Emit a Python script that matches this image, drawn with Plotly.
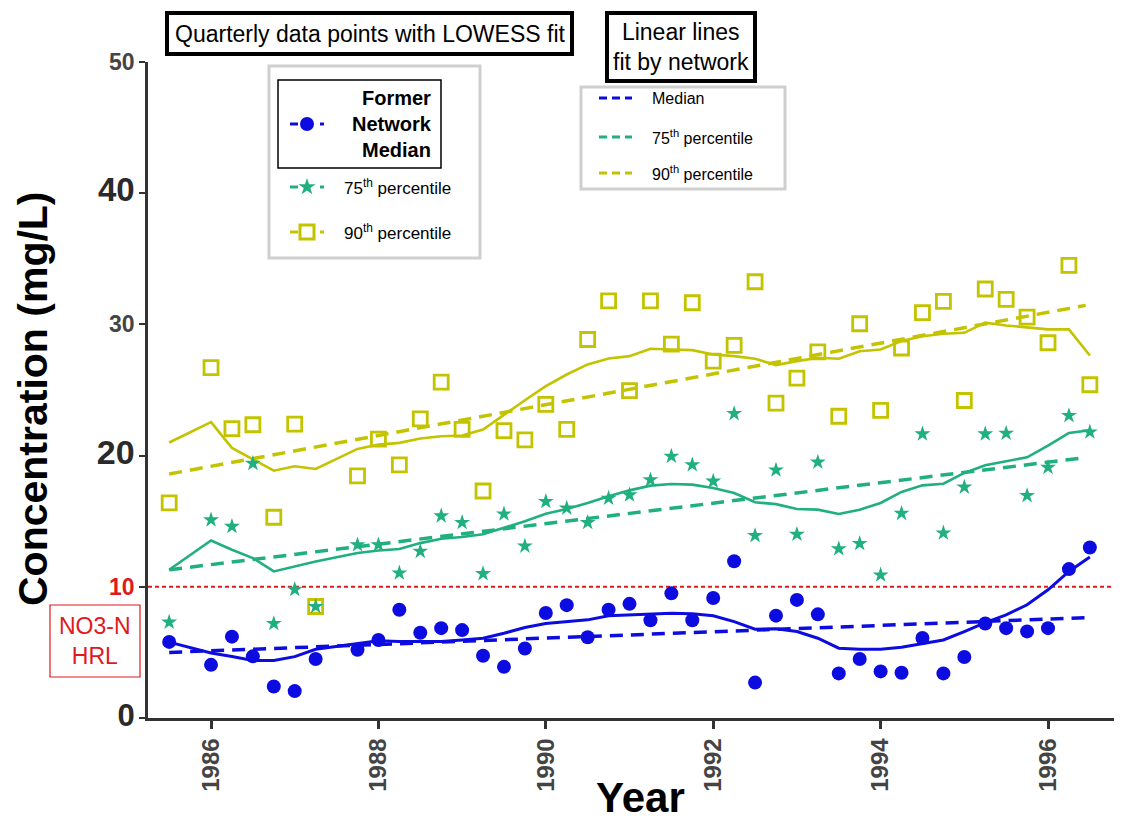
import plotly.graph_objects as go

# ---------------- data ----------------
years = [1985.5, 1986.0, 1986.25, 1986.5, 1986.75, 1987.0, 1987.25, 1987.75, 1988.0, 1988.25,
         1988.5, 1988.75, 1989.0, 1989.25, 1989.5, 1989.75, 1990.0, 1990.25, 1990.5, 1990.75,
         1991.0, 1991.25, 1991.5, 1991.75, 1992.0, 1992.25, 1992.5, 1992.75, 1993.0, 1993.25,
         1993.5, 1993.75, 1994.0, 1994.25, 1994.5, 1994.75, 1995.0, 1995.25, 1995.5, 1995.75,
         1996.0, 1996.25, 1996.5]

median_pts = [5.8, 4.05, 6.2, 4.7, 2.4, 2.05, 4.5, 5.2, 5.95, 8.25,
              6.5, 6.85, 6.7, 4.75, 3.9, 5.3, 8.0, 8.6, 6.15, 8.25,
              8.7, 7.45, 9.5, 7.45, 9.15, 11.95, 2.7, 7.8, 9.0, 7.9,
              3.4, 4.5, 3.55, 3.45, 6.1, 3.4, 4.65, 7.2, 6.85, 6.6,
              6.85, 11.35, 13.0]

p75_pts = [7.3, 15.1, 14.6, 19.4, 7.2, 9.8, 8.5, 13.2, 13.2, 11.05,
           12.7, 15.4, 14.9, 11.0, 15.55, 13.1, 16.5, 16.0, 14.9, 16.75,
           17.0, 18.15, 19.95, 19.3, 18.05, 23.2, 13.9, 18.9, 14.0, 19.5,
           12.9, 13.3, 10.9, 15.6, 21.65, 14.1, 17.6, 21.65, 21.7, 16.95,
           19.1, 23.05, 21.8]

p90_pts = [16.4, 26.7, 22.05, 22.35, 15.3, 22.4, 8.5, 18.45, 21.25, 19.3,
           22.8, 25.6, 22.0, 17.3, 21.9, 21.2, 23.9, 22.0, 28.85, 31.8,
           24.95, 31.8, 28.5, 31.65, 27.2, 28.4, 33.25, 24.0, 25.9, 27.9,
           23.0, 30.05, 23.45, 28.2, 30.9, 31.75, 24.2, 32.7, 31.9, 30.55,
           28.6, 34.5, 25.4]

lowess_median = [5.78, 4.95, 4.68, 4.38, 4.38, 4.68, 5.24, 5.7, 5.88, 5.83,
                 5.83, 5.83, 5.95, 6.08, 6.46, 6.9, 7.2, 7.35, 7.48, 7.79,
                 7.86, 7.94, 7.99, 7.94, 7.79, 7.35, 6.77, 6.8, 6.59, 6.08,
                 5.32, 5.24, 5.24, 5.4, 5.65, 5.95, 6.59, 7.27, 7.86, 8.63,
                 9.77, 11.17, 12.27]

lowess_p75 = [11.3, 13.53, 12.82, 12.19, 11.17, 11.55, 11.93, 12.57, 12.77, 12.88,
              13.33, 13.66, 13.79, 14.0, 14.48, 14.99, 15.57, 15.93, 16.39, 16.9,
              17.35, 17.71, 17.84, 17.79, 17.53, 17.15, 16.44, 16.3, 15.93, 15.88,
              15.55, 15.88, 16.39, 17.23, 17.73, 17.86, 18.68, 19.26, 19.57, 19.87,
              20.76, 21.73, 21.93]

lowess_p90 = [21.0, 22.55, 20.59, 19.69, 18.85, 19.19, 18.98, 20.51, 20.84, 20.97,
              21.3, 21.47, 21.53, 21.98, 23.13, 24.22, 25.29, 26.18, 26.95, 27.4,
              27.58, 28.14, 28.09, 28.04, 27.71, 27.58, 27.38, 26.9, 27.2, 27.46,
              27.38, 27.96, 28.09, 28.73, 29.1, 29.29, 29.36, 30.13, 29.92, 29.75,
              29.62, 29.62, 27.63]

fit_years = [1985.5, 1996.45]
fit_median = [5.0, 7.65]
fit_p75 = [11.3, 19.85]
fit_p90 = [18.6, 31.45]

hrl_value = 10
x_ticks = [1986, 1988, 1990, 1992, 1994, 1996]
y_ticks = [0, 10, 20, 30, 40, 50]
y_ticktext = ["<span style='font-size:31px;color:#2a2a2a'>0</span>",
              "<span style='color:#e0191c'>10</span>",
              "<span style='font-size:34px;color:#2a2a2a'>20</span>",
              "30",
              "<span style='font-size:33px;color:#2a2a2a'>40</span>",
              "50"]

# ---------------- style ----------------
BLUE = "#0c0ce0"
GREEN = "#20af80"
YELLOW = "#c3c300"
RED = "#e0191c"
AXIS = "#333333"
FONT = "Liberation Sans, Arial, sans-serif"

# page body has an 8px margin, so the figure is drawn 8px smaller and all
# positions below are given in window pixels
OFF = 8
W, H = 1122 - OFF, 823 - OFF
L, R, T, B = 148, 0, 62, 105          # in window pixels (plot area 148..1122, 62..718)
PW, PH = 1122 - R - L, 823 - B - T


def px(x):
    return (x - L) / PW


def py(y):
    return (823 - B - y) / PH


fig = go.Figure()

# LOWESS lines
for yy, col, w in [(lowess_p90, YELLOW, 2.6), (lowess_p75, GREEN, 2.6), (lowess_median, BLUE, 3.0)]:
    fig.add_trace(go.Scatter(x=years, y=yy, mode="lines",
                             line=dict(color=col, width=w), hoverinfo="skip", showlegend=False))

# linear fits
for yy, col in [(fit_p90, YELLOW), (fit_p75, GREEN), (fit_median, BLUE)]:
    fig.add_trace(go.Scatter(x=fit_years, y=yy, mode="lines",
                             line=dict(color=col, width=3.5, dash="13px,8px"),
                             hoverinfo="skip", showlegend=False))

# points
fig.add_trace(go.Scatter(x=years, y=p90_pts, mode="markers", showlegend=False,
                         marker=dict(symbol="square-open", size=14, color=YELLOW,
                                     line=dict(width=2.8, color=YELLOW))))
fig.add_trace(go.Scatter(x=years, y=p75_pts, mode="markers", showlegend=False,
                         marker=dict(symbol="star", size=12, color=GREEN, line=dict(width=0))))
fig.add_trace(go.Scatter(x=years, y=median_pts, mode="markers", showlegend=False,
                         marker=dict(symbol="circle", size=14, color=BLUE, line=dict(width=0))))

# legend marker glyphs (pixel overlay axes)
leg_x = [307, 307, 307]
leg_y = [124, 187, 232]
fig.add_trace(go.Scatter(x=[leg_x[0]], y=[leg_y[0]], xaxis="x2", yaxis="y2", mode="markers",
                         marker=dict(symbol="circle", size=14, color=BLUE), showlegend=False,
                         hoverinfo="skip", cliponaxis=False))
fig.add_trace(go.Scatter(x=[leg_x[1]], y=[leg_y[1]], xaxis="x2", yaxis="y2", mode="markers",
                         marker=dict(symbol="star", size=13, color=GREEN, line=dict(width=0)),
                         showlegend=False, hoverinfo="skip", cliponaxis=False))
fig.add_trace(go.Scatter(x=[leg_x[2]], y=[leg_y[2]], xaxis="x2", yaxis="y2", mode="markers",
                         marker=dict(symbol="square-open", size=14, color=YELLOW,
                                     line=dict(width=3, color=YELLOW)),
                         showlegend=False, hoverinfo="skip", cliponaxis=False))

shapes = []
# HRL line
shapes.append(dict(type="line", xref="paper", yref="y", x0=0, x1=1, y0=hrl_value, y1=hrl_value,
                   line=dict(color=RED, width=2, dash="4px,3px"), layer="below"))
# title boxes
shapes.append(dict(type="rect", xref="paper", yref="paper", x0=px(167), x1=px(572), y0=py(13), y1=py(54),
                   line=dict(color="black", width=4), fillcolor="white"))
shapes.append(dict(type="rect", xref="paper", yref="paper", x0=px(607), x1=px(755), y0=py(13), y1=py(81),
                   line=dict(color="black", width=4), fillcolor="white"))
# legend boxes
shapes.append(dict(type="rect", xref="paper", yref="paper", x0=px(269), x1=px(480), y0=py(66), y1=py(258),
                   line=dict(color="#cfcfcf", width=3), fillcolor="white", layer="below"))
shapes.append(dict(type="rect", xref="paper", yref="paper", x0=px(278), x1=px(441), y0=py(80), y1=py(168),
                   line=dict(color="black", width=1.5)))
shapes.append(dict(type="rect", xref="paper", yref="paper", x0=px(581), x1=px(785), y0=py(87), y1=py(189),
                   line=dict(color="#cfcfcf", width=3), fillcolor="white", layer="below"))
# legend1 line bits
for yv, col in zip(leg_y, [BLUE, GREEN, YELLOW]):
    shapes.append(dict(type="line", xref="paper", yref="paper", x0=px(290), x1=px(298), y0=py(yv), y1=py(yv),
                       line=dict(color=col, width=3)))
    shapes.append(dict(type="line", xref="paper", yref="paper", x0=px(320), x1=px(324), y0=py(yv), y1=py(yv),
                       line=dict(color=col, width=3)))
# legend2 dashed lines
for yv, col in zip([98, 137, 173], [BLUE, GREEN, YELLOW]):
    shapes.append(dict(type="line", xref="paper", yref="paper", x0=px(599), x1=px(632), y0=py(yv), y1=py(yv),
                       line=dict(color=col, width=3, dash="8px,5px")))
# HRL box
shapes.append(dict(type="rect", xref="paper", yref="paper", x0=px(50), x1=px(140), y0=py(605), y1=py(677),
                   line=dict(color=RED, width=1.2)))

annotations = []


def ann(text, x, y, size, color="black", xanchor="center", bold=False, align="center", angle=0):
    annotations.append(dict(text=text, x=px(x), y=py(y), xref="paper", yref="paper", showarrow=False,
                            xanchor=xanchor, yanchor="middle", align=align, textangle=angle,
                            font=dict(family=FONT, size=size, color=color,
                                      weight="bold" if bold else "normal")))


ann("Quarterly data points with LOWESS fit", 369.5, 34, 23)
ann("Linear lines<br>fit by network", 681, 47.5, 23)
ann("Former<br>Network<br>Median", 434, 124, 20, xanchor="right", bold=True, align="right")
ann("75<sup>th</sup> percentile", 342, 187, 17, xanchor="left")
ann("90<sup>th</sup> percentile", 342, 232, 17, xanchor="left")
ann("Median", 650, 98, 16, xanchor="left")
ann("75<sup>th</sup> percentile", 650, 137, 16, xanchor="left")
ann("90<sup>th</sup> percentile", 650, 173, 16, xanchor="left")
ann("NO3-N<br>HRL", 95, 641, 23, color=RED)
ann("Concentration (mg/L)", 33, 399, 41, bold=True, angle=-90)
ann("Year", 640, 797, 42, bold=True)

fig.update_layout(
    width=W, height=H,
    margin=dict(l=L - OFF, r=R, t=T - OFF, b=B, pad=0),
    paper_bgcolor="white", plot_bgcolor="white",
    showlegend=False,
    shapes=shapes, annotations=annotations,
    font=dict(family=FONT),
    xaxis=dict(range=[1985.247, 1996.884], tickvals=x_ticks, ticktext=[str(v) for v in x_ticks],
               tickangle=-90, showgrid=False, zeroline=False,
               showline=True, linecolor=AXIS, linewidth=2.5,
               ticks="outside", ticklen=8, tickwidth=2.5, tickcolor=AXIS,
               tickfont=dict(family=FONT, size=24, color="#444444", weight="bold")),
    yaxis=dict(range=[0, 50], tickvals=y_ticks, ticktext=y_ticktext,
               showgrid=False, zeroline=False,
               showline=True, linecolor=AXIS, linewidth=2.5,
               ticks="outside", ticklen=6, tickwidth=2, tickcolor=AXIS,
               tickfont=dict(family=FONT, size=23, color="#444444", weight="bold")),
    xaxis2=dict(overlaying="x", anchor="y2", range=[L, 1122 - R], visible=False, showgrid=False),
    yaxis2=dict(overlaying="y", anchor="x2", range=[823 - B, T], visible=False, showgrid=False),
)

fig.write_html("out.html")
